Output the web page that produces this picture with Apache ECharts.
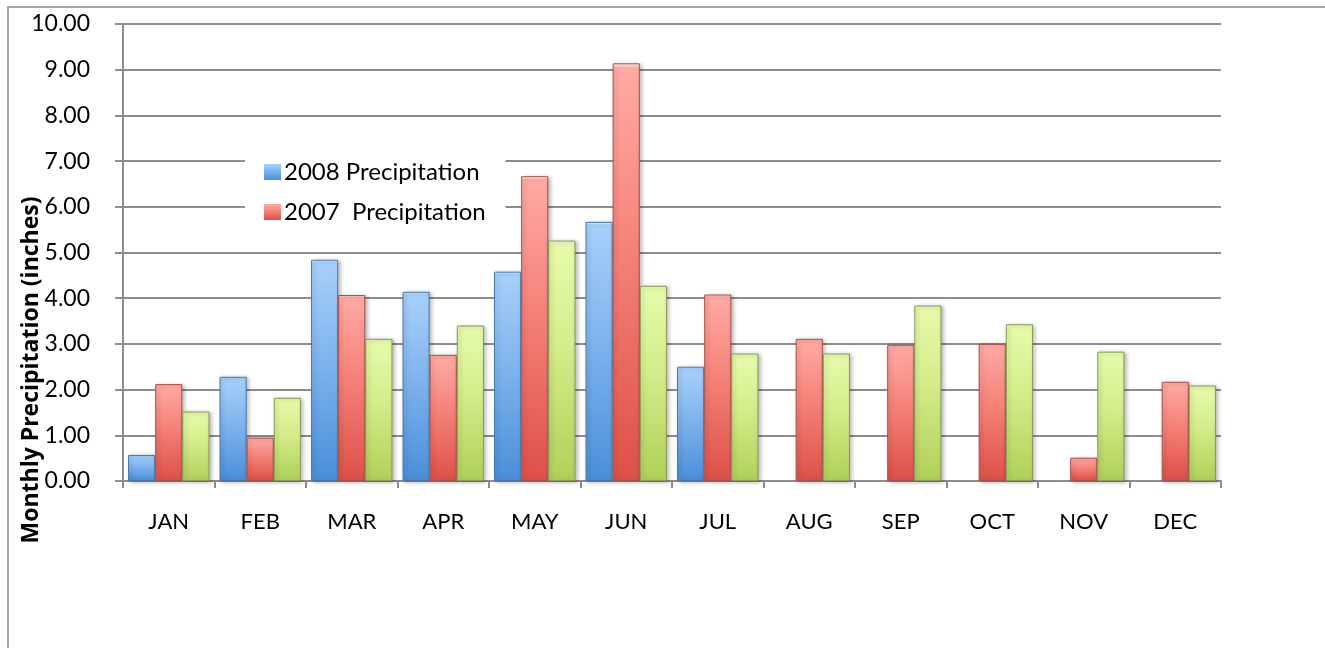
<!DOCTYPE html>
<html>
<head>
<meta charset="utf-8">
<script src="https://cdn.jsdelivr.net/npm/echarts@6/dist/echarts.min.js"></script>
<style>
  html, body { margin: 0; padding: 0; background: #fff; }
  #chart { width: 1325px; height: 648px; }
</style>
</head>
<body>
<div id="chart"></div>
<script>
// Monthly precipitation, inches
const months = ['JAN', 'FEB', 'MAR', 'APR', 'MAY', 'JUN', 'JUL', 'AUG', 'SEP', 'OCT', 'NOV', 'DEC'];
const precip2008 = [0.57, 2.28, 4.84, 4.14, 4.58, 5.67, 2.50, null, null, null, null, null];
const precip2007 = [2.12, 0.95, 4.07, 2.76, 6.67, 9.14, 4.08, 3.11, 2.98, 3.00, 0.51, 2.17];
const precipNormal = [1.52, 1.82, 3.11, 3.40, 5.26, 4.27, 2.79, 2.79, 3.84, 3.43, 2.83, 2.09];
const yTicks = [0, 1, 2, 3, 4, 5, 6, 7, 8, 9, 10];

const FONT = 'Lato, "Open Sans", sans-serif';

function barFill(top, mid, bottom) {
  return new echarts.graphic.LinearGradient(0, 0, 0, 1, [
    { offset: 0, color: '#ffffff' },
    { offset: 0.012, color: top },
    { offset: 0.45, color: mid },
    { offset: 1, color: bottom }
  ]);
}

function barSeries(name, data, top, mid, bottom, edge) {
  return {
    name: name,
    type: 'bar',
    data: data,
    barGap: '0%',
    barCategoryGap: '11%',
    itemStyle: {
      color: barFill(top, mid, bottom),
      borderColor: edge,
      borderWidth: 1,
      shadowColor: 'rgba(0,0,0,0.28)',
      shadowBlur: 4,
      shadowOffsetX: 2,
      shadowOffsetY: 1
    },
    emphasis: { disabled: true }
  };
}

const chart = echarts.init(document.getElementById('chart'), null, { renderer: 'canvas' });
chart.setOption({
  animation: false,
  backgroundColor: '#ffffff',
  grid: { left: 123, right: 104, top: 24, bottom: 167, containLabel: false },
  legend: {
    data: ['2008 Precipitation', '2007  Precipitation'],
    orient: 'vertical',
    left: 245,
    top: 150,
    width: 263,
    padding: [10, 20, 10, 19],
    itemGap: 16,
    itemWidth: 17,
    itemHeight: 16,
    icon: 'rect',
    itemStyle: { borderWidth: 0 },
    backgroundColor: '#ffffff',
    textStyle: { fontFamily: FONT, fontSize: 24, color: '#000', padding: [0, 0, 0, -2] }
  },
  xAxis: {
    type: 'category',
    data: months,
    axisLine: { lineStyle: { color: '#8c8c8c', width: 2 } },
    axisTick: { show: true, length: 7, lineStyle: { color: '#8c8c8c', width: 2 } },
    axisLabel: { fontFamily: FONT, fontSize: 22, color: '#000', margin: 30 }
  },
  yAxis: {
    type: 'value',
    min: 0,
    max: 10,
    interval: 1,
    axisLine: { show: true, lineStyle: { color: '#8c8c8c', width: 2 } },
    axisTick: { show: true, length: 8, lineStyle: { color: '#8c8c8c', width: 2 } },
    splitLine: { show: true, lineStyle: { color: '#8c8c8c', width: 2 } },
    axisLabel: {
      fontFamily: FONT, fontSize: 23, color: '#000', margin: 33,
      padding: [4, 0, 0, 0],
      formatter: v => yTicks.includes(v) ? v.toFixed(2) : ''
    }
  },
  graphic: [
    {
      type: 'rect',
      shape: { x: 8, y: 7, width: 1330, height: 660 },
      style: { fill: 'none', stroke: '#a6a6a6', lineWidth: 2 },
      silent: true,
      z: -1
    },
    {
      type: 'text',
      x: 31,
      y: 370,
      rotation: Math.PI / 2,
      style: {
        text: 'Monthly Precipitation (inches)',
        fontFamily: '"Open Sans", sans-serif',
        fontWeight: 'bold',
        fontSize: 23,
        fill: '#000',
        align: 'center',
        verticalAlign: 'middle'
      },
      silent: true
    }
  ],
  series: [
    barSeries('2008 Precipitation', precip2008, '#a8d0fa', '#7fb4ee', '#4a8ed8', '#4a78a8'),
    barSeries('2007  Precipitation', precip2007, '#ffaaa4', '#f58178', '#dd5049', '#a8504a'),
    barSeries('Normal Precipitation', precipNormal, '#e6fbaa', '#d4ec8a', '#b0d058', '#8a9a55')
  ]
});
</script>
</body>
</html>
